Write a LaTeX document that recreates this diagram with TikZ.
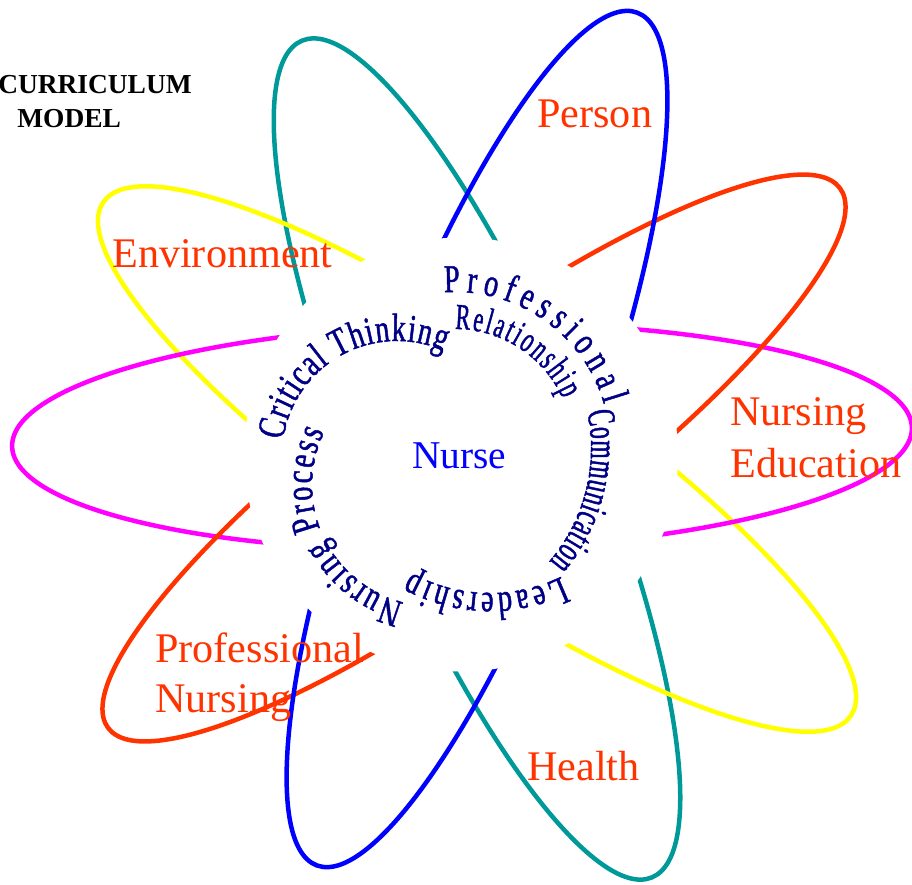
\documentclass[tikz,border=0pt]{standalone}
\usepackage{fontspec}
\setmainfont{Liberation Serif}
\newfontfamily\ringfam[FakeStretch=0.72,FakeBold=1.2]{Liberation Serif}
\newfontfamily\ringnarrowfam[FakeStretch=0.6,FakeBold=1.2]{Liberation Serif}
\newcommand{\ringfont}{\ringfam\fontsize{28}{32}\selectfont}
\newcommand{\ringnarrow}{\ringnarrowfam\fontsize{28}{32}\selectfont}
\newcommand{\ringsmall}{\ringnarrowfam\fontsize{26}{30}\selectfont}
\usetikzlibrary{decorations.text}
\definecolor{tealc}{RGB}{0,153,153}
\definecolor{bluec}{RGB}{0,0,255}
\definecolor{magc}{RGB}{255,0,255}
\definecolor{yelc}{RGB}{255,255,0}
\definecolor{redc}{RGB}{255,51,0}
\definecolor{labelc}{RGB}{255,51,0}
\definecolor{ringc}{RGB}{0,0,135}
\tikzset{
  ellipsestroke/.style={line width=3.2pt},
  petallabel/.style={text=labelc, font=\fontsize{30}{36}\selectfont, inner sep=0pt, anchor=base west},
  ringtext/.style={decorate, decoration={text along path, text align=fit to path, text color=ringc}},
}
\begin{document}
\begin{tikzpicture}[x=0.025cm,y=0.025cm]
\useasboundingbox (0,0) rectangle (912,-884);
\clip (0,0) rectangle (912,-884);
% ellipses
\draw[ellipsestroke, tealc, rotate around={-67.3:(477,-459)}] (477,-459) ellipse [x radius=453.5, y radius=112];
\draw[ellipsestroke, yelc, rotate around={-34.5:(477,-459)}] (477,-459) ellipse [x radius=453.5, y radius=111];
\draw[ellipsestroke, magc, rotate around={1.2:(462,-437)}] (462,-437) ellipse [x radius=450, y radius=113];
\draw[ellipsestroke, redc, rotate around={36.4:(474,-458)}] (474,-458) ellipse [x radius=454.7, y radius=107.5];
\draw[ellipsestroke, bluec, rotate around={69.4:(477,-439)}] (477,-439) ellipse [x radius=455.5, y radius=109.8];
% central white disc
\fill[white] (461,-454.5) circle [radius=217];
% ring texts
\path[ringtext, decoration={text={|\ringfont|Critical Thinking}}] (397,-456) ++(172:115) arc[start angle=172, end angle=66, radius=115];
\path[ringtext, decoration={text={|\ringfont|Professional}}] (455,-447) ++(94:155) arc[start angle=94, end angle=16, radius=155];
\path[ringtext, decoration={text={|\ringsmall|Relationship}}] (455,-447) ++(90:118) arc[start angle=90, end angle=24, radius=118];
\path[ringtext, decoration={text={|\ringnarrow|Communication}}] (416,-448) ++(12:175) arc[start angle=12, end angle=-40.5, radius=175];
\path[ringtext, decoration={text={|\ringfont|Leadership}}] (490,-430) ++(-64:163) arc[start angle=-64, end angle=-119, radius=163];
\path[ringtext, decoration={text={|\ringfont|Nursing Process}}] (433,-485) ++(256:121) arc[start angle=256, end angle=154, radius=121];
% labels
\node[petallabel] (person) at (537,-127) {Person};
\node[petallabel] (env) at (112,-267) {Environment};
\node[petallabel] (nedu1) at (730,-425) {Nursing};
\node[petallabel] (nedu2) at (730,-477) {Education};
\node[petallabel] (pn1) at (155,-662) {Professional};
\node[petallabel] (pn2) at (155,-712) {Nursing};
\node[petallabel] (health) at (527,-780) {Health};
\node[text=bluec, font=\fontsize{28}{34}\selectfont, inner sep=0pt, anchor=base west] (nurse) at (412,-468) {Nurse};
\node[font=\bfseries\fontsize{19.5}{23}\selectfont, inner sep=0pt, anchor=base west] (cm1) at (-2,-93) {CURRICULUM};
\node[font=\bfseries\fontsize{19.5}{23}\selectfont, inner sep=0pt, anchor=base west] (cm2) at (17,-127) {MODEL};
\end{tikzpicture}
\end{document}
